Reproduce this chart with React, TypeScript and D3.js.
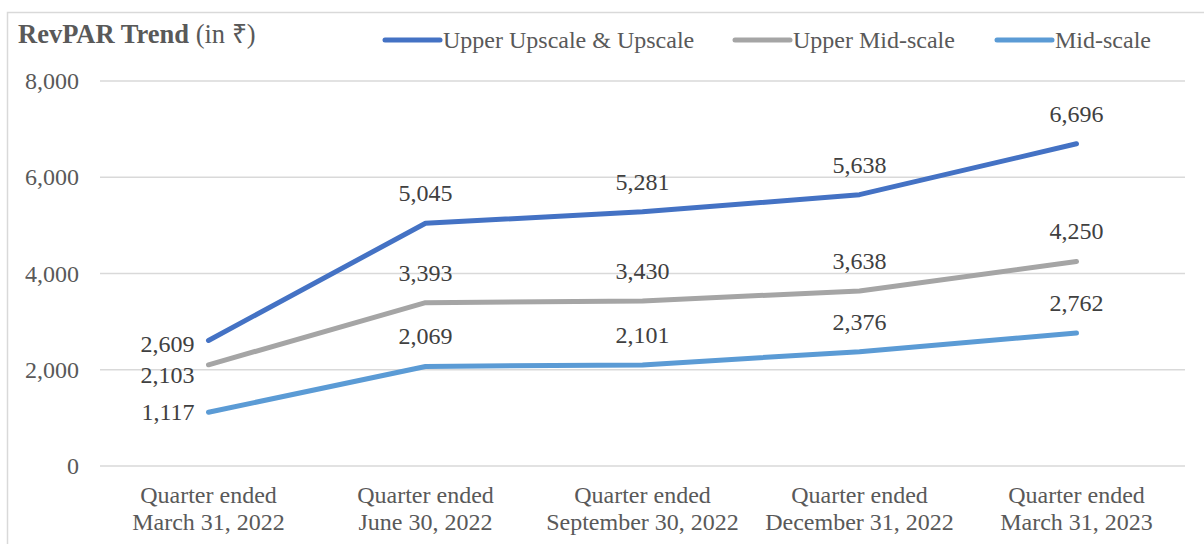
import React from "react";
import * as d3 from "d3";

const categories = [
  ["Quarter ended", "March 31, 2022"],
  ["Quarter ended", "June 30, 2022"],
  ["Quarter ended", "September 30, 2022"],
  ["Quarter ended", "December 31, 2022"],
  ["Quarter ended", "March 31, 2023"],
];
const upperUpscale = [2609, 5045, 5281, 5638, 6696];
const upperMid = [2103, 3393, 3430, 3638, 4250];
const midScale = [1117, 2069, 2101, 2376, 2762];
const yTicks = [0, 2000, 4000, 6000, 8000];

const seriesList = [
  { name: "Upper Upscale & Upscale", values: upperUpscale, color: "#4472C4", firstDy: 12 },
  { name: "Upper Mid-scale", values: upperMid, color: "#A5A5A5", firstDy: 18 },
  { name: "Mid-scale", values: midScale, color: "#5B9BD5", firstDy: 8 },
];

const legendX = [385, 735, 997];

export default function App() {
  const W = 1204, H = 544;
  const left = 100, right = 1185, top = 81, bottom = 466;
  const x = d3.scalePoint<number>().domain(d3.range(categories.length)).range([left, right]).padding(0.5);
  const y = d3.scaleLinear().domain([0, 8000]).range([bottom, top]);
  const fmt = d3.format(",");
  const line = d3.line<number>().x((_, i) => x(i)!).y((d) => y(d));
  const font = "'Liberation Serif', 'Times New Roman', serif";

  return (
    <svg width={W} height={H} style={{ position: "absolute", left: 0, top: 0, display: "block" }} fontFamily={font}>
      <rect x={0} y={0} width={W} height={H} fill="#fff" />
      <rect x={7.5} y={12.5} width={1300} height={600} fill="none" stroke="#d9d9d9" strokeWidth={1.5} />
      <text x={18} y={43} fontSize={26.5} fill="#595959">
        <tspan fontWeight="bold">RevPAR Trend</tspan>
        <tspan> (in ₹)</tspan>
      </text>
      {seriesList.map((s, i) => (
        <g key={s.name}>
          <line x1={legendX[i]} x2={legendX[i] + 55} y1={40} y2={40} stroke={s.color} strokeWidth={5} strokeLinecap="round" />
          <text x={legendX[i] + 58} y={48} fontSize={24} fill="#595959">{s.name}</text>
        </g>
      ))}
      {yTicks.map((t) => (
        <g key={t}>
          <line x1={left} x2={right} y1={y(t)} y2={y(t)} stroke="#d9d9d9" strokeWidth={1.5} />
          <text x={79} y={y(t) + 8} fontSize={24} fill="#595959" textAnchor="end">{fmt(t)}</text>
        </g>
      ))}
      {categories.map((c, i) => (
        <text key={i} x={x(i)} y={503} fontSize={24} fill="#595959" textAnchor="middle">
          <tspan x={x(i)} dy={0}>{c[0]}</tspan>
          <tspan x={x(i)} dy={27}>{c[1]}</tspan>
        </text>
      ))}
      {seriesList.map((s) => (
        <path key={s.name} d={line(s.values)!} fill="none" stroke={s.color} strokeWidth={5} strokeLinecap="round" strokeLinejoin="round" />
      ))}
      {seriesList.map((s) =>
        s.values.map((v, i) =>
          i === 0 ? (
            <text key={s.name + i} x={x(i)! - 14} y={y(v) + s.firstDy} fontSize={24} fill="#404040" textAnchor="end">{fmt(v)}</text>
          ) : (
            <text key={s.name + i} x={x(i)} y={y(v) - 22} fontSize={24} fill="#404040" textAnchor="middle">{fmt(v)}</text>
          )
        )
      )}
    </svg>
  );
}
